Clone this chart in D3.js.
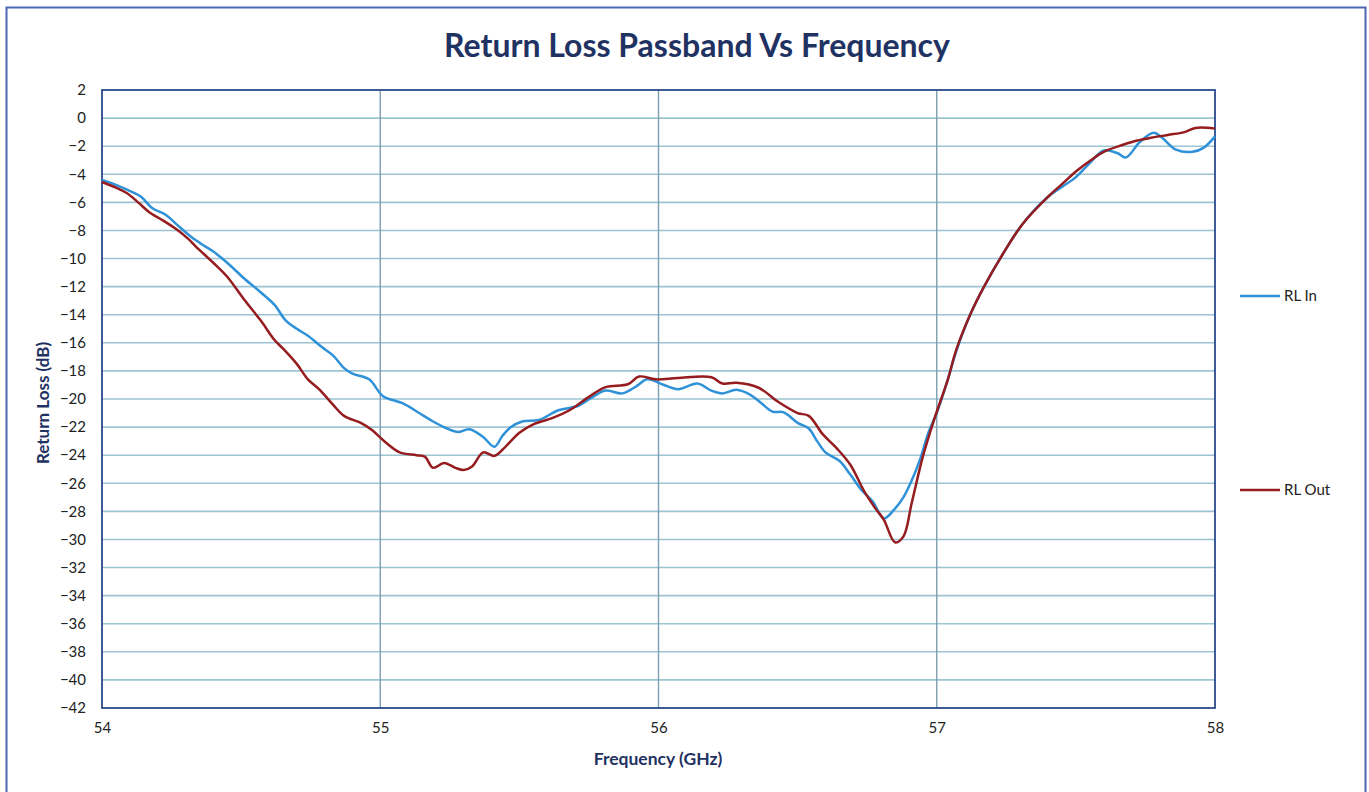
<!DOCTYPE html>
<meta charset="utf-8">
<html>
<head>
<script src="https://d3js.org/d3.v7.min.js"></script>
<style>
  body { margin: 0; background: #fff; font-family: Lato, "Open Sans", sans-serif; }
  text { font-family: Lato, "Open Sans", sans-serif; }
  .grid-h line { stroke: #9cc4d2; stroke-width: 1.6px; }
  .grid-v line { stroke: #7d9fb0; stroke-width: 1.4px; }
  .tick text { font-size: 15px; fill: #222; font-family: Lato, "Open Sans", sans-serif; }
</style>
</head>
<body>
<svg width="1369" height="792"></svg>
<script>
// frequency (GHz) and return loss (dB)
var freqIn = [54.00, 54.05, 54.09, 54.14, 54.18, 54.23, 54.27, 54.32, 54.36, 54.40,
  54.45, 54.51, 54.57, 54.62, 54.66, 54.70, 54.74, 54.79, 54.83, 54.87,
  54.90, 54.96, 55.01, 55.08, 55.14, 55.19, 55.24, 55.28, 55.32, 55.37,
  55.41, 55.44, 55.47, 55.51, 55.57, 55.64, 55.71, 55.76, 55.81, 55.87,
  55.92, 55.96, 56.02, 56.07, 56.14, 56.19, 56.23, 56.28, 56.33, 56.37,
  56.41, 56.45, 56.50, 56.54, 56.57, 56.60, 56.65, 56.69, 56.73, 56.77,
  56.81, 56.85, 56.88, 56.91, 56.94, 56.97, 57.00, 57.04, 57.07, 57.12,
  57.17, 57.24, 57.31, 57.40, 57.45, 57.50, 57.55, 57.60, 57.65, 57.68,
  57.73, 57.78, 57.81, 57.86, 57.92, 57.96, 58.00];
var rlIn = [-4.4, -4.75, -5.1, -5.6, -6.4, -6.9, -7.6, -8.45, -9.0, -9.5,
  -10.3, -11.4, -12.4, -13.3, -14.4, -15.0, -15.5, -16.3, -16.9, -17.8,
  -18.2, -18.6, -19.8, -20.3, -21.0, -21.6, -22.1, -22.35, -22.15, -22.7,
  -23.4, -22.6, -22.0, -21.6, -21.5, -20.8, -20.5, -19.9, -19.4, -19.6,
  -19.1, -18.6, -19.0, -19.3, -18.9, -19.4, -19.6, -19.35, -19.7, -20.3,
  -20.9, -20.95, -21.7, -22.1, -23.0, -23.8, -24.4, -25.4, -26.5, -27.3,
  -28.5, -27.8, -27.0, -25.8, -24.3, -22.4, -21.0, -18.6, -16.6, -14.0,
  -12.0, -9.6, -7.5, -5.6, -4.9, -4.2, -3.2, -2.3, -2.5, -2.8,
  -1.7, -1.05, -1.4, -2.25, -2.4, -2.1, -1.3];

var freqOut = [54.00, 54.05, 54.09, 54.13, 54.17, 54.22, 54.27, 54.31, 54.34, 54.40,
  54.45, 54.51, 54.57, 54.62, 54.65, 54.70, 54.74, 54.78, 54.83, 54.87,
  54.93, 54.97, 55.02, 55.07, 55.13, 55.16, 55.19, 55.23, 55.27, 55.30,
  55.33, 55.37, 55.41, 55.44, 55.50, 55.55, 55.62, 55.68, 55.75, 55.81,
  55.89, 55.93, 55.99, 56.07, 56.19, 56.23, 56.28, 56.36, 56.43, 56.50,
  56.54, 56.59, 56.64, 56.69, 56.74, 56.78, 56.81, 56.85, 56.88, 56.91,
  56.95, 56.99, 57.04, 57.07, 57.12, 57.17, 57.24, 57.31, 57.40, 57.45,
  57.50, 57.55, 57.60, 57.67, 57.72, 57.77, 57.83, 57.89, 57.93, 58.00];
var rlOut = [-4.55, -4.95, -5.35, -6.0, -6.7, -7.3, -7.95, -8.6, -9.2, -10.3,
  -11.3, -12.9, -14.4, -15.8, -16.4, -17.5, -18.6, -19.3, -20.4, -21.2,
  -21.7, -22.2, -23.1, -23.8, -24.0, -24.1, -24.9, -24.55, -24.9, -25.05,
  -24.8, -23.8, -24.05, -23.6, -22.4, -21.8, -21.35, -20.8, -19.85, -19.15,
  -18.95, -18.4, -18.6, -18.5, -18.45, -18.9, -18.85, -19.2, -20.2, -21.0,
  -21.2, -22.5, -23.5, -24.7, -26.6, -27.8, -28.6, -30.2, -29.8, -27.4,
  -24.1, -21.5, -18.6, -16.5, -14.0, -12.0, -9.6, -7.5, -5.6, -4.7,
  -3.8, -3.05, -2.4, -1.9, -1.6, -1.4, -1.2, -1.0, -0.7, -0.75];

var xTicks = [54, 55, 56, 57, 58];
var yTicks = d3.range(2, -43, -2);

var series = [
  { name: "RL In", freq: freqIn, vals: rlIn, color: "#2f92d8", legendY: 296 },
  { name: "RL Out", freq: freqOut, vals: rlOut, color: "#951c1f", legendY: 490 }
];

var svg = d3.select("svg");

// outer chart frame
svg.append("rect")
  .attr("x", 6.5).attr("y", 7.5)
  .attr("width", 1359).attr("height", 790)
  .attr("fill", "none")
  .attr("stroke", "#4d66b2")
  .attr("stroke-width", 2);

var plotL = 102, plotT = 90, plotR = 1215, plotB = 708;

var x = d3.scaleLinear().domain([54, 58]).range([plotL, plotR]);
var y = d3.scaleLinear().domain([-42, 2]).range([plotB, plotT]);

// horizontal gridlines
svg.append("g")
  .attr("class", "grid-h")
  .selectAll("line")
  .data(yTicks.filter(function(d) { return d !== 2 && d !== -42; }))
  .enter().append("line")
  .attr("x1", plotL).attr("x2", plotR)
  .attr("y1", function(d) { return y(d); })
  .attr("y2", function(d) { return y(d); });

// vertical gridlines
svg.append("g")
  .attr("class", "grid-v")
  .selectAll("line")
  .data([55, 56, 57])
  .enter().append("line")
  .attr("y1", plotT).attr("y2", plotB)
  .attr("x1", function(d) { return x(d); })
  .attr("x2", function(d) { return x(d); });

// plot border
svg.append("rect")
  .attr("x", plotL).attr("y", plotT)
  .attr("width", plotR - plotL).attr("height", plotB - plotT)
  .attr("fill", "none")
  .attr("stroke", "#2b4a8c")
  .attr("stroke-width", 1.8);

// axes (labels only)
var yAxis = svg.append("g")
  .attr("transform", "translate(" + plotL + ",0)")
  .call(d3.axisLeft(y).tickValues(yTicks).tickSize(0).tickPadding(16));
yAxis.select(".domain").remove();

var xAxis = svg.append("g")
  .attr("transform", "translate(0," + plotB + ")")
  .call(d3.axisBottom(x).tickValues(xTicks).tickSize(0).tickPadding(14).tickFormat(d3.format("d")));
xAxis.select(".domain").remove();

// lines - smoothed like the instrument export
var line = d3.line()
  .x(function(d) { return x(d[0]); })
  .y(function(d) { return y(d[1]); })
  .curve(d3.curveCatmullRom.alpha(0.5));

series.forEach(function(s) {
  var pts = s.freq.map(function(f, i) { return [f, s.vals[i]]; });
  svg.append("path")
    .datum(pts)
    .attr("d", line)
    .attr("fill", "none")
    .attr("stroke", s.color)
    .attr("stroke-width", 2.5)
    .attr("stroke-linejoin", "round");

  svg.append("line")
    .attr("x1", 1240).attr("x2", 1280)
    .attr("y1", s.legendY).attr("y2", s.legendY)
    .attr("stroke", s.color)
    .attr("stroke-width", 2.6);
  svg.append("text")
    .attr("x", 1284).attr("y", s.legendY + 5)
    .attr("font-size", 15)
    .attr("fill", "#222")
    .text(s.name);
});

// titles
svg.append("text")
  .attr("x", 697).attr("y", 57)
  .attr("text-anchor", "middle")
  .attr("font-size", 32)
  .attr("font-weight", "bold")
  .attr("fill", "#1f3262")
  .text("Return Loss Passband Vs Frequency");

svg.append("text")
  .attr("x", 658).attr("y", 765)
  .attr("text-anchor", "middle")
  .attr("font-size", 17.5)
  .attr("font-weight", "bold")
  .attr("fill", "#1f3262")
  .text("Frequency (GHz)");

svg.append("text")
  .attr("transform", "translate(49,403) rotate(-90)")
  .attr("text-anchor", "middle")
  .attr("font-size", 17)
  .attr("font-weight", "bold")
  .attr("fill", "#1f3262")
  .text("Return Loss (dB)");
</script>
</body>
</html>
